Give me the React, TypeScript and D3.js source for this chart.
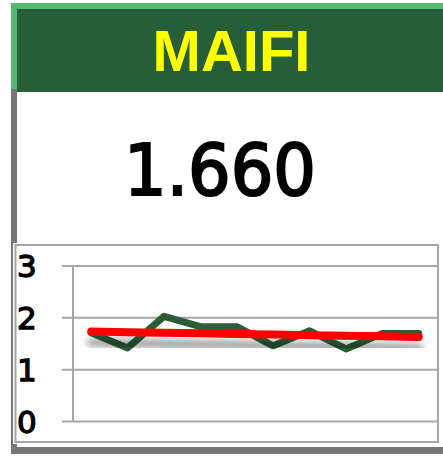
import React from "react";
import * as d3 from "d3";

const title = "MAIFI";
const currentValue = "1.660";
const periods = ["1", "2", "3", "4", "5", "6", "7", "8", "9", "10"];
const values = [1.71, 1.42, 2.03, 1.83, 1.83, 1.46, 1.75, 1.4, 1.7, 1.7];
const yTicks = [0, 1, 2, 3];

const W = 443;
const H = 456;
const numFont = "'DejaVu Sans', Verdana, sans-serif";

export default function App() {
  const x = d3.scaleBand<string>().domain(periods).range([73, 437]);
  const y = d3.scaleLinear().domain([0, 3]).range([421.5, 266]);
  const cx = (p: string) => (x(p) as number) + x.bandwidth() / 2;

  const line = d3
    .line<number>()
    .x((_, i) => cx(periods[i]))
    .y((v) => y(v));

  // linear trendline (least squares)
  const n = values.length;
  const idx = d3.range(n);
  const mx = d3.mean(idx) as number;
  const my = d3.mean(values) as number;
  const sxy = d3.sum(idx, (i) => (i - mx) * (values[i] - my));
  const sxx = d3.sum(idx, (i) => (i - mx) * (i - mx));
  const slope = sxy / sxx;
  const icpt = my - slope * mx;
  const trend = idx.map((i) => icpt + slope * i);

  return (
    <div style={{ position: "fixed", left: 0, top: 0, width: W, height: H, background: "#fff" }}>
      <svg width={W} height={H} style={{ display: "block" }}>
        <defs>
          <filter id="sh" x="-10%" y="-200%" width="120%" height="500%">
            <feDropShadow dx="0" dy="11" stdDeviation="3.5" floodColor="#000" floodOpacity="0.4" />
          </filter>
        </defs>
        {/* card gray border */}
        <rect x={11} y={89} width={6} height={365} fill="#767676" />
        <rect x={11} y={447} width={432} height={7} fill="#767676" />
        {/* header */}
        <rect x={11} y={3} width={432} height={86} fill="#55b86f" />
        <rect x={17} y={9} width={426} height={83} fill="#265e37" />
        <text
          x={231.5}
          y={71}
          textAnchor="middle"
          fontFamily="'Liberation Sans', Arial, sans-serif"
          fontWeight="bold"
          fontSize={58}
          fill="#ffff00"
        >
          {title}
        </text>
        {/* big value */}
        <text
          x={220}
          y={195}
          textAnchor="middle"
          fontFamily={numFont}
          fontSize={71}
          textLength={192}
          lengthAdjust="spacingAndGlyphs"
          fill="#000"
          stroke="#000"
          strokeWidth={2.2}
        >
          {currentValue}
        </text>
        {/* chart area */}
        <rect x={13} y={243} width={428} height={201} fill="#fff" />
        <rect x={15.5} y={245} width={422.5} height={197} fill="none" stroke="#a6a6a6" strokeWidth={2} />
        {yTicks.map((t) => (
          <g key={t}>
            <line x1={62} x2={437} y1={y(t)} y2={y(t)} stroke="#a6a6a6" strokeWidth={2} />
            <text
              x={17}
              y={y(t) + 11.3}
              fontFamily={numFont}
              fontSize={31}
              fill="#000"
              stroke="#000"
              strokeWidth={1.3}
            >
              {t}
            </text>
          </g>
        ))}
        <line x1={73} x2={73} y1={y(3)} y2={y(0)} stroke="#a6a6a6" strokeWidth={2} />
        <path
          d={line(values) || ""}
          fill="none"
          stroke="#2b5e36"
          strokeWidth={7}
          strokeLinejoin="round"
          strokeLinecap="round"
        />
        <path
          d={line(trend) || ""}
          fill="none"
          stroke="#ff0000"
          strokeWidth={8}
          strokeLinecap="round"
          filter="url(#sh)"
        />
      </svg>
    </div>
  );
}
